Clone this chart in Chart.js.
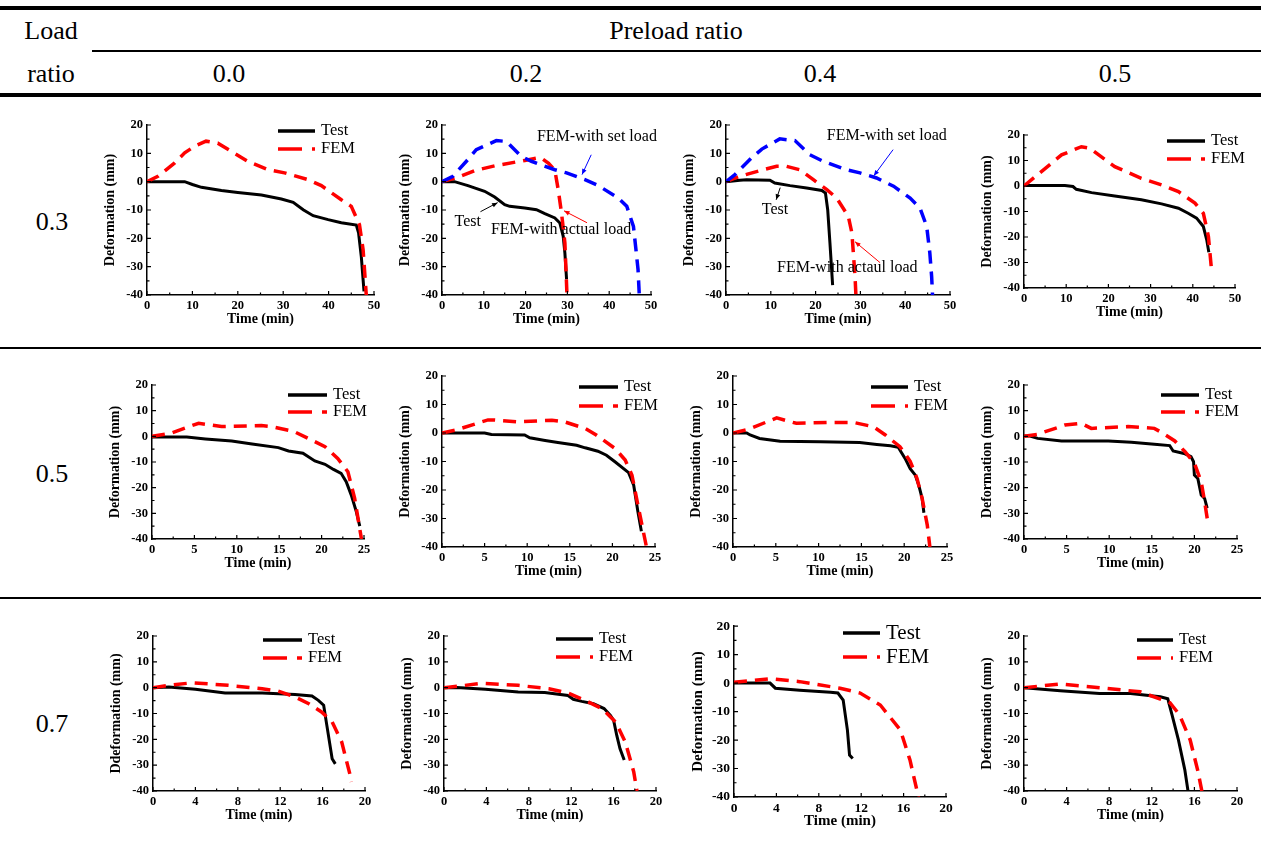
<!DOCTYPE html>
<html>
<head>
<meta charset="utf-8">
<script src="https://cdn.jsdelivr.net/npm/chart.js@4.4.0/dist/chart.umd.min.js"></script>
<style>
  body { margin: 0; background: #fff; }
  #page { position: relative; width: 1261px; height: 845px; overflow: hidden; font-family: "Liberation Serif", "Times New Roman", serif; }
  .rule { position: absolute; background: #000; }
  .cell { position: absolute; font-size: 26px; color: #000; transform: translate(-50%, -50%); white-space: nowrap; }
  canvas { position: absolute; }
</style>
</head>
<body>
<div id="page"></div>
<script>
const loadRatios = ["0.3", "0.5", "0.7"];
const preloadRatios = ["0.0", "0.2", "0.4", "0.5"];

// load ratio 0.3
const test_03_00 = [[0,0],[8.3,0],[10,-1],[12,-2],[16.4,-3.1],[20,-3.8],[25.2,-4.7],[29.6,-6.1],[32.2,-7.3],[34.4,-9.9],[36.6,-12],[39.9,-13.4],[42.8,-14.5],[46.1,-15.3],[46.6,-18.1],[47.2,-26.4],[47.8,-38.7]];
const fem_03_00 = [[0,0],[2.4,1.9],[6.1,6.6],[8.3,10.2],[10.5,12.5],[13,14.3],[15.6,13.6],[22.2,7.2],[26.7,4.2],[30.3,3.1],[35.5,0.7],[38.4,-1.4],[42.8,-6.4],[45,-8.7],[46.8,-15.2],[47.6,-24],[48.3,-40]];

const test_03_02 = [[0,0],[3,0],[6.2,-1.4],[10.2,-3.4],[12.6,-5.4],[15,-8.1],[16.2,-8.7],[19.8,-9.3],[22.6,-9.9],[24.6,-11.3],[27,-12.8],[28.2,-14.6],[29,-19.3],[29.4,-25.2],[29.8,-34.5]];
const femActual_03_02 = [[0,0],[3.4,1.3],[7.8,3.9],[12.6,5.6],[19.8,7.5],[23.5,8.6],[25.5,6.5],[27,4],[27.8,-2.8],[28.6,-11.1],[29.4,-21.6],[29.9,-40]];
const femSet_03_02 = [[0,0],[2.6,1.9],[6.2,7.8],[8.2,11.3],[13,14.5],[15.4,14.2],[19,8.9],[21.4,7.2],[27,4.2],[29.8,3.1],[34.2,0.7],[37.4,-1.4],[42.2,-5.8],[44.2,-8.7],[45.8,-15.8],[46.4,-24],[46.9,-31],[47.2,-40]];

const test_03_04 = [[0,0],[3.1,0.5],[4.6,0.7],[9.8,0.5],[10.9,-0.5],[14.3,-1.4],[18,-2.2],[21.4,-3.1],[22.2,-4],[22.7,-9.9],[23.2,-21.6],[23.8,-36.5]];
const femActual_03_04 = [[0,0],[3.1,1.9],[8.3,4.2],[11.3,5.4],[13.5,5.4],[16.5,4.2],[19.5,0.7],[22.5,-2.8],[24.7,-5.8],[27.3,-12.2],[28.1,-18.1],[28.8,-33.4],[29,-40]];
const femSet_03_04 = [[0,0],[2,2.5],[5.7,8.4],[8,11.5],[12,15.1],[15.4,14.5],[18.7,9.5],[21.7,7.2],[26.9,4.2],[29.9,3.1],[33.6,1.3],[37.4,-1.6],[41.1,-5.8],[43.3,-9.3],[44.8,-15.8],[45.5,-25.2],[45.9,-33.4],[46.1,-40]];

const test_03_05 = [[0,0.2],[9.7,0.2],[11.6,-0.2],[12.4,-1.3],[16,-2.6],[21.5,-3.9],[27.8,-5.4],[32.6,-7],[36.6,-8.7],[38.9,-10.7],[40.9,-12.6],[42.5,-15.9],[43.3,-21.1],[43.8,-26]];
const fem_03_05 = [[0,0],[6.5,8.9],[8.9,12.2],[13.6,15.4],[15.6,14.8],[21.5,7.6],[27.8,3],[32.6,0.4],[36.6,-2.2],[40.5,-6.7],[42.5,-10.7],[43.7,-19.8],[44.5,-34]];

// load ratio 0.5
const test_05_00 = [[0,-0.3],[4.1,-0.3],[6.3,-1],[9.4,-1.8],[11.8,-3],[14.9,-4.4],[16.1,-5.7],[17.8,-6.6],[19.2,-9.6],[20.4,-10.9],[21.4,-12.9],[22.3,-14.4],[22.9,-17.7],[23.5,-22.9],[24.1,-29.4],[24.5,-35]];
const fem_05_00 = [[0,0],[2.2,1.2],[5.5,5.1],[8.2,3.8],[12.9,4.2],[14.1,3.8],[16.8,1.8],[18.4,-0.8],[20.4,-4],[21.9,-8.6],[23.1,-13.8],[23.9,-24.2],[24.7,-40]];

const test_05_02 = [[0,0],[5,0],[5.8,-0.5],[9.7,-0.7],[10.3,-1.7],[12.1,-2.6],[13.6,-3.3],[15.8,-4.3],[16.8,-5.2],[18.3,-6.4],[19.3,-7.8],[20.3,-10.1],[21.9,-13.9],[22.5,-18.3],[23,-27.7],[23.4,-34.5]];
const fem_05_02 = [[0,0],[1.7,1.1],[5.4,4.6],[6,4.6],[8.9,3.9],[12.9,4.5],[14.4,3.9],[16.8,1.6],[18.1,-0.7],[20.3,-5.4],[21.5,-9.5],[22.3,-14.8],[23,-25.4],[24,-40]];

const test_05_04 = [[0,0],[1.6,0],[2,-0.7],[3.1,-1.9],[5.5,-2.9],[10.2,-3.1],[14.8,-3.3],[16.8,-4],[18.4,-4.5],[19.3,-5],[20.1,-8.9],[20.7,-12.5],[21.3,-14.8],[21.7,-18.3],[22.1,-23],[22.3,-28]];
const fem_05_04 = [[0,0],[1.8,1.3],[5.1,5.3],[7.4,3.4],[11.3,3.7],[14.1,3.7],[16.4,2.2],[17.8,-0.7],[19.5,-4.8],[20.7,-9.9],[21.5,-16],[22.1,-23],[22.7,-32.4],[23,-40]];

const test_05_05 = [[0,0.1],[0.7,0.1],[1.6,-0.8],[4.4,-1.8],[9.9,-1.8],[12.6,-2.3],[15.3,-3.1],[17.1,-3.6],[17.5,-5.7],[18.9,-6.8],[19.6,-7.9],[19.9,-9.9],[20,-15.1],[20.4,-16.4],[20.8,-22.9],[21.2,-24.2],[21.5,-28]];
const fem_05_05 = [[0,0],[1.6,0.8],[4.8,4.4],[6.7,5.1],[7.9,3.1],[12.2,3.8],[15.3,3.1],[16.1,1.6],[17.7,-1.8],[18.9,-6],[20,-10.5],[20.8,-17.7],[21.2,-25.5],[21.6,-34]];

// load ratio 0.7
const test_07_00 = [[0,0],[1.5,0.3],[4,-0.6],[6.8,-2.1],[10.3,-2.1],[13.4,-2.6],[15,-3.2],[15.6,-4.9],[16.1,-6.8],[16.4,-14.6],[16.9,-27.5],[17.2,-29.5]];
const fem_07_00 = [[0,0],[1.5,0.9],[3.7,1.9],[7.1,0.9],[10.3,-0.4],[11.8,-1.3],[13.4,-3.6],[14.7,-6.2],[15.9,-9.4],[16.9,-13.3],[17.8,-21],[18.6,-33.9],[18.7,-36.5]];

const test_07_02 = [[0,0],[1.2,0.1],[3.9,-0.6],[7,-1.7],[9.5,-1.9],[11.7,-3],[12.2,-4.5],[13,-5.3],[14.1,-6.2],[15.1,-8.1],[15.7,-10.7],[16,-12.6],[16.3,-18.5],[16.6,-23.6],[17,-28]];
const fem_07_02 = [[0,0],[1.4,0.6],[3.6,1.7],[7,0.9],[9.9,-0.4],[11.7,-2.1],[13.3,-4.9],[14.9,-8.1],[16.2,-13.3],[17.1,-21],[17.9,-32.6],[18.2,-40]];

const test_07_04 = [[0,0],[3.4,0],[3.9,-1.8],[6.2,-2.5],[9.1,-3.2],[9.8,-3.5],[10.3,-6],[10.7,-16.5],[10.9,-25.3],[11.2,-26.5]];
const fem_07_04 = [[0,0.3],[3.4,1.5],[6.2,0.5],[10,-1.8],[11.9,-3.5],[13.8,-7.7],[15.7,-16.5],[16.6,-27],[17.4,-40]];

const test_07_05 = [[0,0],[3.4,-1.2],[7.1,-2.3],[10,-2.3],[12.8,-3.5],[13.5,-4.3],[13.9,-10.5],[14.5,-20.2],[15.1,-31.8],[15.4,-40]];
const fem_07_05 = [[0,0],[3.4,1.4],[7.1,0],[10.9,-1.6],[13.7,-5.8],[14.6,-10.5],[15.6,-20.2],[16.3,-31.8],[16.7,-40]];

const RED = "#ff0000", BLUE = "#0000ff", BLACK = "#000000";
const test = d => ({ data: d, color: BLACK });
const red = d => ({ data: d, color: RED, dash: true });
const blue = d => ({ data: d, color: BLUE, dash: true });

// plot box = [left, top, right, bottom] on the page
const panels = [
  { box: [147,125,374,295], xMax: 50, xStep: 10, lines: [red(fem_03_00), test(test_03_00)], legend: [278,315,131,149] },
  { box: [442,125,651,295], xMax: 50, xStep: 10, lines: [blue(femSet_03_02), red(femActual_03_02), test(test_03_02)],
    notes: [
      { text: "FEM-with set load", at: [22.7,15.9], arrow: [[35.7,9.5],[33.5,2.5]], color: BLUE },
      { text: "Test", at: [3.0,-14.1], arrow: [[9.2,-10.6],[13.3,-7.4]], color: BLACK },
      { text: "FEM-with actual load", at: [11.7,-17.0], arrow: [[34.7,-14.5],[29.2,-10.3]], color: RED }
    ] },
  { box: [726,125,950,295], xMax: 50, xStep: 10, lines: [blue(femSet_03_04), red(femActual_03_04), test(test_03_04)],
    notes: [
      { text: "FEM-with set load", at: [22.5,16.2], arrow: [[37.3,11.3],[33.0,2.1]], color: BLUE },
      { text: "Test", at: [8.0,-9.9], arrow: [[12.1,-2.1],[11.2,-6.4]], color: BLACK },
      { text: "FEM-with actaul load", at: [11.4,-30.3], arrow: [[34.4,-28.6],[28.8,-21.2]], color: RED }
    ] },
  { box: [1024,135,1235,288], xMax: 50, xStep: 10, lines: [red(fem_03_05), test(test_03_05)], legend: [1167,1205,141,159] },

  { box: [152,385,364,539], xMax: 25, xStep: 5, lines: [red(fem_05_00), test(test_05_00)], legend: [288,327,395,412] },
  { box: [442,376,655,547], xMax: 25, xStep: 5, lines: [red(fem_05_02), test(test_05_02)], legend: [579,618,387,406] },
  { box: [733,376,947,547], xMax: 25, xStep: 5, lines: [red(fem_05_04), test(test_05_04)], legend: [871,908,387,406] },
  { box: [1024,385,1237,539], xMax: 25, xStep: 5, lines: [red(fem_05_05), test(test_05_05)], legend: [1161,1199,395,412] },

  { box: [153,636,365,791], xMax: 20, xStep: 4, yTitle: "Ddeformation (mm)", lines: [red(fem_07_00), test(test_07_00)], legend: [263,302,640,658] },
  { box: [444,636,656,791], xMax: 20, xStep: 4, lines: [red(fem_07_02), test(test_07_02)], legend: [556,593,639,657] },
  { box: [734,626,946,797], xMax: 20, xStep: 4, big: true, lines: [red(fem_07_04), test(test_07_04)], legend: [843,880,633,657] },
  { box: [1024,636,1237,791], xMax: 20, xStep: 4, lines: [red(fem_07_05), test(test_07_05)], legend: [1137,1173,640,658] }
];

const page = document.getElementById("page");

function rule(x, y, w, h) {
  const d = document.createElement("div");
  d.className = "rule";
  Object.assign(d.style, { left: x + "px", top: y + "px", width: w + "px", height: h + "px" });
  page.appendChild(d);
}
function cell(text, x, y) {
  const d = document.createElement("div");
  d.className = "cell";
  d.textContent = text;
  Object.assign(d.style, { left: x + "px", top: y + "px" });
  page.appendChild(d);
}

// table frame
rule(0, 6, 1261, 4);
rule(92, 50, 1169, 2);
rule(0, 93, 1261, 4);
rule(0, 347, 1261, 1.5);
rule(0, 597, 1261, 1.5);

cell("Load", 51, 31);
cell("Preload ratio", 676, 31);
cell("ratio", 51, 74);
[229, 526, 820, 1115].forEach((x, i) => cell(preloadRatios[i], x, 74));
[222, 474, 724].forEach((y, i) => cell(loadRatios[i], 52, y));

// Origin-style inward ticks with one minor tick between majors
const inwardTicks = {
  id: "inwardTicks",
  afterDraw(chart) {
    const { ctx, chartArea: a, scales: { x, y } } = chart;
    const step = chart.options.scales.x.ticks.stepSize;
    ctx.save();
    ctx.strokeStyle = "#000";
    ctx.lineWidth = 1.2;
    ctx.beginPath();
    for (let i = 0; i * step / 2 <= x.max + 1e-9; i++) {
      const px = x.getPixelForValue(i * step / 2);
      const len = i % 2 === 0 ? 4 : 2.5;
      ctx.moveTo(px, a.bottom);
      ctx.lineTo(px, a.bottom - len);
    }
    for (let i = 0; y.min + i * 5 <= y.max + 1e-9; i++) {
      const py = y.getPixelForValue(y.min + i * 5);
      const len = i % 2 === 0 ? 4 : 2.5;
      ctx.moveTo(a.left, py);
      ctx.lineTo(a.left + len, py);
    }
    ctx.stroke();
    ctx.restore();
  }
};

function arrow(ctx, x1, y1, x2, y2, color) {
  const ang = Math.atan2(y2 - y1, x2 - x1);
  ctx.strokeStyle = color;
  ctx.fillStyle = color;
  ctx.lineWidth = 1;
  ctx.setLineDash([]);
  ctx.beginPath();
  ctx.moveTo(x1, y1);
  ctx.lineTo(x2, y2);
  ctx.stroke();
  ctx.beginPath();
  ctx.moveTo(x2, y2);
  ctx.lineTo(x2 - 6 * Math.cos(ang - 0.4), y2 - 6 * Math.sin(ang - 0.4));
  ctx.lineTo(x2 - 6 * Math.cos(ang + 0.4), y2 - 6 * Math.sin(ang + 0.4));
  ctx.closePath();
  ctx.fill();
}

// legend and call-out labels for one panel
function decor(p, originX, originY) {
  return {
    id: "decor",
    afterDraw(chart) {
      const ctx = chart.ctx;
      const { x, y } = chart.scales;
      ctx.save();
      ctx.textBaseline = "middle";
      ctx.textAlign = "left";
      if (p.legend) {
        const [x1, x2, yt, yf] = p.legend.map((v, i) => v - (i < 2 ? originX : originY));
        const size = p.big ? 21 : 16.5;
        ctx.lineWidth = 3.5;
        ctx.strokeStyle = BLACK;
        ctx.beginPath(); ctx.moveTo(x1, yt); ctx.lineTo(x2, yt); ctx.stroke();
        ctx.strokeStyle = RED;
        ctx.setLineDash([24, 10]);
        ctx.beginPath(); ctx.moveTo(x1, yf); ctx.lineTo(x2, yf); ctx.stroke();
        ctx.setLineDash([]);
        ctx.fillStyle = BLACK;
        ctx.font = size + 'px "Liberation Serif"';
        ctx.fillText("Test", x2 + 6, yt);
        ctx.fillText("FEM", x2 + 6, yf);
      }
      (p.notes || []).forEach(n => {
        ctx.fillStyle = BLACK;
        ctx.font = '16px "Liberation Serif"';
        ctx.fillText(n.text, x.getPixelForValue(n.at[0]), y.getPixelForValue(n.at[1]));
        const [[ax, ay], [bx, by]] = n.arrow;
        arrow(ctx, x.getPixelForValue(ax), y.getPixelForValue(ay),
          x.getPixelForValue(bx), y.getPixelForValue(by), n.color);
      });
      ctx.restore();
    }
  };
}

const PAD_L = 60, PAD_T = 12, PAD_R = 20, PAD_B = 36;

panels.forEach(p => {
  const [L, T, R, B] = p.box;
  const canvas = document.createElement("canvas");
  const w = R - L + PAD_L + PAD_R, h = B - T + PAD_T + PAD_B;
  canvas.width = w; canvas.height = h;
  Object.assign(canvas.style, { left: (L - PAD_L) + "px", top: (T - PAD_T) + "px", width: w + "px", height: h + "px" });
  page.appendChild(canvas);

  const tickFont = { family: "Liberation Serif", weight: "bold", size: p.big ? 13.5 : 12.5 };
  const titleFont = { family: "Liberation Serif", weight: "bold", size: p.big ? 15 : 14 };

  new Chart(canvas, {
    type: "scatter",
    data: {
      datasets: p.lines.map(s => ({
        data: s.data.map(([x, y]) => ({ x, y })),
        showLine: true,
        borderColor: s.color,
        borderWidth: s.dash ? 3.5 : 3,
        borderDash: s.dash ? [13, 8] : [],
        pointRadius: 0,
        tension: 0,
        fill: false
      }))
    },
    options: {
      responsive: false,
      animation: false,
      events: [],
      layout: { padding: { left: 0, top: PAD_T, right: PAD_R, bottom: 0 } },
      plugins: { legend: { display: false }, tooltip: { enabled: false } },
      scales: {
        x: {
          type: "linear", min: 0, max: p.xMax,
          ticks: { stepSize: p.xStep, color: "#000", font: tickFont, padding: 3, maxRotation: 0 },
          grid: { drawOnChartArea: false, drawTicks: false },
          border: { color: "#000", width: 1.5 },
          title: { display: true, text: "Time (min)", color: "#000", font: titleFont, padding: { top: 0, bottom: 3 } },
          afterFit: s => { s.height = PAD_B; }
        },
        y: {
          type: "linear", min: -40, max: 20,
          ticks: { stepSize: 10, color: "#000", font: tickFont, padding: 4 },
          grid: { drawOnChartArea: false, drawTicks: false },
          border: { color: "#000", width: 1.5 },
          title: { display: true, text: p.yTitle || "Deformation (mm)", color: "#000", font: titleFont, padding: { top: 15, bottom: 0 } },
          afterFit: s => { s.width = PAD_L; }
        }
      }
    },
    plugins: [inwardTicks, decor(p, L - PAD_L, T - PAD_T)]
  });
});
</script>
</body>
</html>
